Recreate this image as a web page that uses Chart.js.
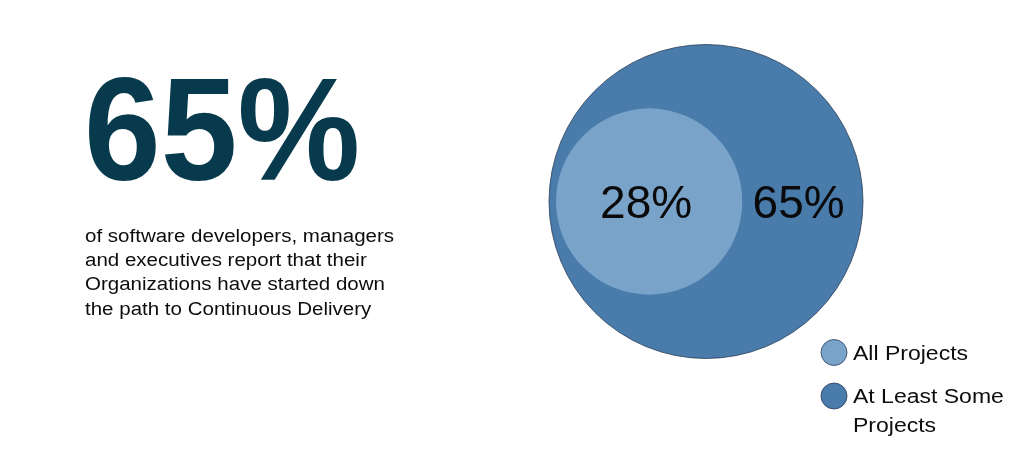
<!DOCTYPE html>
<html>
<head>
<meta charset="utf-8">
<script src="https://cdn.jsdelivr.net/npm/chart.js@4.4.0/dist/chart.umd.min.js"></script>
<style>
  html, body { margin: 0; padding: 0; background: #ffffff; }
  #wrap { width: 1024px; height: 451px; }
</style>
</head>
<body>
<div id="wrap"><canvas id="c" width="1024" height="451"></canvas></div>
<script>
// ---- data ----
const categories = ['All Projects', 'At Least Some Projects'];
const legendLines = [['All Projects'], ['At Least Some', 'Projects']];
const values = [28, 65];
const valueLabels = ['28%', '65%'];
const headline = '65%';
const bodyLines = [
  'of software developers, managers',
  'and executives report that their',
  'Organizations have started down',
  'the path to Continuous Delivery'
];

// ---- styles / layout ----
const fillColors = ['#79a3c9', '#497bab'];
const borderColors = ['rgba(0,0,0,0)', 'rgba(35,55,80,0.75)'];
const OUTER_R = 157;
const OUTER_CX = 706;
const CY = 201.5;
const INSET = 7;
const maxVal = Math.max(...values);
const radiusOf = v => OUTER_R * Math.pow(v / maxVal, 0.62);
const leftEdge = OUTER_CX - OUTER_R;

const datasets = categories.map((name, i) => {
  const r = radiusOf(values[i]);
  const x = values[i] === maxVal ? OUTER_CX : leftEdge + INSET + r;
  return {
    label: name,
    data: [{ x: x, y: CY, r: r, v: values[i] }],
    backgroundColor: fillColors[i],
    borderColor: borderColors[i],
    borderWidth: values[i] === maxVal ? 1 : 0,
    hoverRadius: 0,
    clip: false
  };
});

function drawStretched(ctx, text, x, y, sx, sy) {
  ctx.save();
  ctx.translate(x, y);
  ctx.scale(sx, sy);
  ctx.fillText(text, 0, 0);
  ctx.restore();
}

const decor = {
  id: 'decor',
  afterDatasetsDraw(chart) {
    const ctx = chart.ctx;
    ctx.save();
    // headline
    ctx.fillStyle = '#073a4c';
    ctx.textBaseline = 'alphabetic';
    ctx.textAlign = 'left';
    ctx.font = 'bold 138px "Liberation Sans", Arial, sans-serif';
    drawStretched(ctx, headline, 84, 180, 1.0, 1.06);
    // body text
    ctx.fillStyle = '#0d0d0d';
    ctx.font = '18px "Liberation Sans", Arial, sans-serif';
    bodyLines.forEach((t, i) => drawStretched(ctx, t, 85, 241.5 + i * 24.4, 1.14, 1));

    // value labels inside circles
    const inner = chart.getDatasetMeta(0).data[0];
    const outer = chart.getDatasetMeta(1).data[0];
    const ri = chart.data.datasets[0].data[0].r;
    const ro = chart.data.datasets[1].data[0].r;
    ctx.fillStyle = '#0a0a0a';
    ctx.textAlign = 'center';
    ctx.font = '46px "Liberation Sans", Arial, sans-serif';
    ctx.fillText(valueLabels[0], inner.x - 3, 218);
    const ox = ((inner.x + ri) + (outer.x + ro)) / 2 - 4;
    ctx.fillText(valueLabels[1], ox, 218);

    // legend
    const legendY = [352.5, 396];
    const legendX = 834;
    ctx.textAlign = 'left';
    ctx.font = '20px "Liberation Sans", Arial, sans-serif';
    categories.forEach((c, i) => {
      ctx.beginPath();
      ctx.arc(legendX, legendY[i], 13, 0, Math.PI * 2);
      ctx.fillStyle = fillColors[i];
      ctx.fill();
      ctx.lineWidth = 1;
      ctx.strokeStyle = 'rgba(35,55,80,0.75)';
      ctx.stroke();
      ctx.fillStyle = '#0d0d0d';
      legendLines[i].forEach((t, j) => drawStretched(ctx, t, 853, legendY[i] + 7 + j * 28.5, 1.15, 1));
    });
    ctx.restore();
  }
};

new Chart(document.getElementById('c'), {
  type: 'bubble',
  data: { datasets: datasets },
  options: {
    responsive: false,
    animation: false,
    events: [],
    layout: { padding: 0, autoPadding: false },
    scales: {
      x: { type: 'linear', min: 0, max: 1024, display: false },
      y: { type: 'linear', min: 0, max: 451, reverse: true, display: false }
    },
    plugins: {
      legend: { display: false },
      tooltip: { enabled: false }
    }
  },
  plugins: [decor]
});
</script>
</body>
</html>
